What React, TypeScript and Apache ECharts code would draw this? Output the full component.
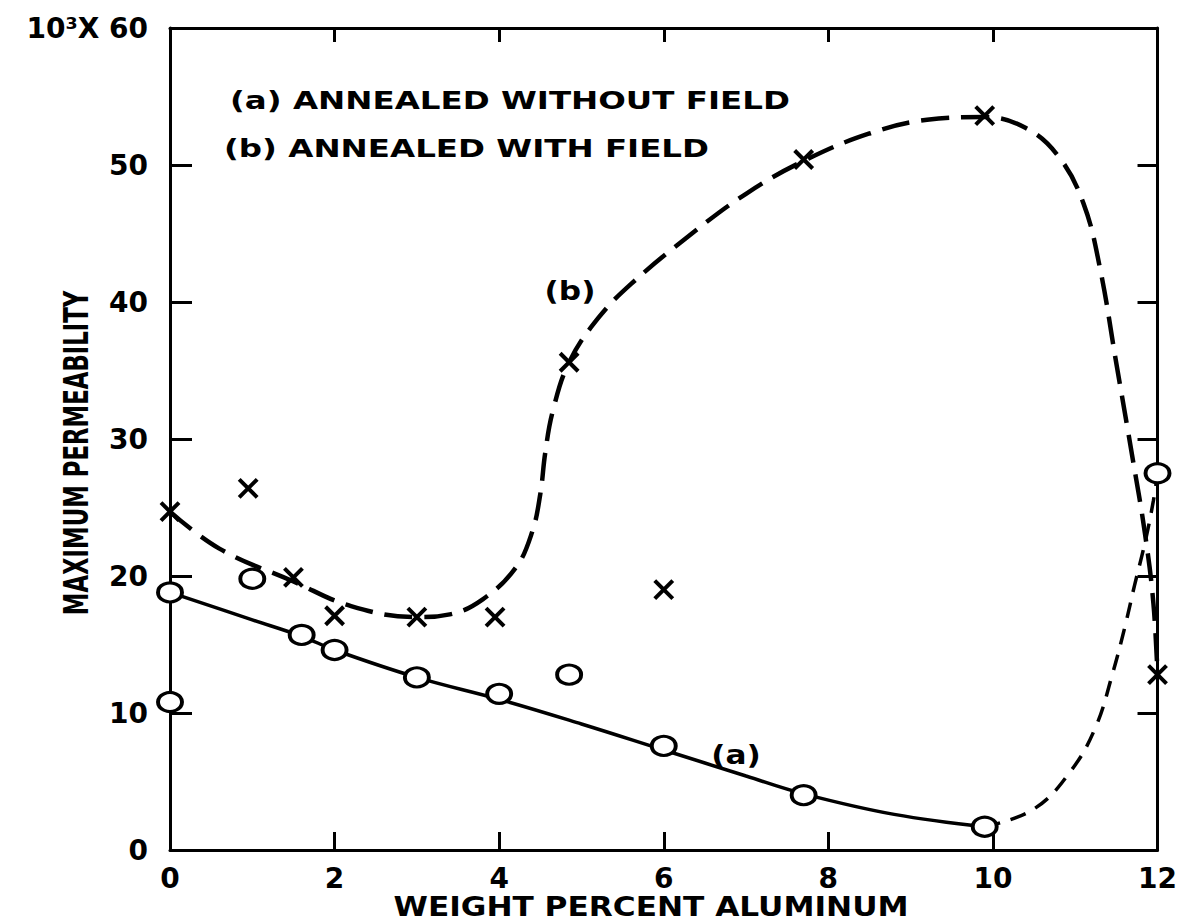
import React, { useEffect, useRef } from "react";
import * as echarts from "echarts";

// Open circles: (a) annealed without field
const pointsA: [number, number][] = [
  [0, 18.8], [0, 10.8], [1, 19.8], [1.6, 15.7], [2, 14.6], [3, 12.6],
  [4, 11.4], [4.85, 12.8], [6, 7.6], [7.7, 4.0], [9.9, 1.7], [12, 27.5],
];
// Crosses: (b) annealed with field
const pointsB: [number, number][] = [
  [0, 24.7], [0.95, 26.4], [1.5, 19.9], [2, 17.1], [3, 17.0], [3.95, 17.0],
  [4.85, 35.6], [6, 19.0], [7.7, 50.4], [9.9, 53.6], [12, 12.8],
];
// Curve (a), solid part
const curveA: [number, number][] = [
  [0, 18.8], [1, 16.8], [1.6, 15.6], [2, 14.6], [3, 12.6], [4, 11.0],
  [5, 9.2], [6, 7.3], [7, 5.4], [7.7, 4.1], [8.8, 2.6], [9.9, 1.7],
];
// Curve (a), dashed continuation
const curveADashed: [number, number][] = [
  [9.9, 1.7], [10.5, 3.0], [10.95, 5.8], [11.25, 9.0], [11.45, 12.8],
  [11.6, 16.2], [11.72, 19.3], [11.85, 22.5], [11.95, 25.5], [12, 27.5],
];
// Curve (b), dashed
const curveB: [number, number][] = [
  [0, 24.7], [0.6, 22.0], [1.5, 19.6], [2.2, 17.8], [3, 17.0], [3.4, 17.2],
  [3.8, 18.3], [4.2, 20.6], [4.4, 23.2], [4.5, 26.0], [4.56, 29.0],
  [4.65, 32.0], [4.85, 35.6], [5.2, 38.8], [5.6, 41.3], [6.3, 44.8],
  [7.0, 47.9], [7.7, 50.3], [8.5, 52.3], [9.2, 53.3], [9.9, 53.5],
  [10.4, 52.7], [10.8, 50.6], [11.1, 47.2], [11.3, 42.5], [11.5, 35.5],
  [11.7, 28.5], [11.85, 23.0], [11.95, 18.0], [12, 12.8],
];

const xTitle = "WEIGHT PERCENT ALUMINUM";
const yTitle = "MAXIMUM PERMEABILITY";
const legendA = "(a) ANNEALED WITHOUT FIELD";
const legendB = "(b) ANNEALED WITH FIELD";

const FONT = "DejaVu Sans";

export default function App() {
  const ref = useRef<HTMLDivElement>(null);
  useEffect(() => {
    if (!ref.current) return;
    const chart = echarts.init(ref.current, undefined, { renderer: "svg" });
    const axisLine = { show: true, onZero: false, lineStyle: { color: "#000", width: 3 } };
    const label = { color: "#000", fontFamily: FONT, fontWeight: "bold" as const, fontSize: 28 };
    const txt = (text: string, x: number, y: number, opts: any = {}) => ({
      type: "text",
      x,
      y,
      scaleX: opts.scaleX ?? 1.3,
      rotation: opts.rotation ?? 0,
      style: {
        text,
        x: 0,
        y: 0,
        fill: "#000",
        font: `bold ${opts.size ?? 25}px "${FONT}"`,
        align: opts.align ?? "left",
        verticalAlign: "middle",
      },
    });
    chart.setOption({
      animation: false,
      backgroundColor: "#fff",
      grid: { left: 170, top: 28, right: 15, bottom: 73 },
      xAxis: [
        {
          type: "value", min: 0, max: 12, interval: 2,
          axisLine, splitLine: { show: false },
          axisTick: { inside: true, length: 18, lineStyle: { color: "#000", width: 3 } },
          axisLabel: { ...label, margin: 14 },
        },
        {
          type: "value", position: "top", min: 0, max: 12, interval: 2,
          axisLine, splitLine: { show: false },
          axisTick: { inside: true, length: 14, lineStyle: { color: "#000", width: 3 } },
          axisLabel: { show: false },
        },
      ],
      yAxis: [
        {
          type: "value", min: 0, max: 60, interval: 10,
          axisLine, splitLine: { show: false },
          axisTick: { inside: true, length: 22, lineStyle: { color: "#000", width: 3 } },
          axisLabel: {
            ...label, margin: 22,
            formatter: (v: number) => (v === 60 ? "10³X 60" : String(v)),
          },
        },
        {
          type: "value", position: "right", min: 0, max: 60, interval: 10,
          axisLine, splitLine: { show: false },
          axisTick: { inside: true, length: 20, lineStyle: { color: "#000", width: 3 } },
          axisLabel: { show: false },
        },
      ],
      series: [
        {
          type: "line", data: curveA, smooth: 0.4, showSymbol: false, symbol: "none",
          lineStyle: { color: "#000", width: 3.5 }, z: 2,
        },
        {
          type: "line", data: curveADashed, smooth: 0.4, showSymbol: false, symbol: "none",
          lineStyle: { color: "#000", width: 3.5, type: [16, 11] }, z: 2,
        },
        {
          type: "line", data: curveB, smooth: 0.4, showSymbol: false, symbol: "none",
          lineStyle: { color: "#000", width: 4.5, type: [28, 12] }, z: 2,
        },
        {
          type: "scatter", data: pointsA, symbol: "circle", symbolSize: [24, 19],
          itemStyle: { color: "#fff", borderColor: "#000", borderWidth: 3.5, opacity: 1 }, z: 4,
        },
        {
          type: "scatter", data: pointsB, symbol: "path://M0,0L20,20M20,0L0,20",
          symbolSize: 18,
          itemStyle: { color: "none", borderColor: "#000", borderWidth: 4, opacity: 1 }, z: 5,
        },
      ],
      graphic: [
        txt(legendA, 230, 100),
        txt(legendB, 224, 148),
        txt("(b)", 570, 291, { align: "center", size: 26, scaleX: 1.2 }),
        txt("(a)", 736, 755, { align: "center", size: 26, scaleX: 1.2 }),
        txt(xTitle, 651, 907, { align: "center", size: 26, scaleX: 1.2 }),
        txt(yTitle, 77, 453, { align: "center", size: 33, scaleX: 0.69, rotation: Math.PI / 2 }),
      ],
    });
    return () => chart.dispose();
  }, []);
  return (
    <div
      ref={ref}
      style={{ position: "fixed", left: 0, top: 0, width: 1180, height: 923, background: "#fff" }}
    />
  );
}
